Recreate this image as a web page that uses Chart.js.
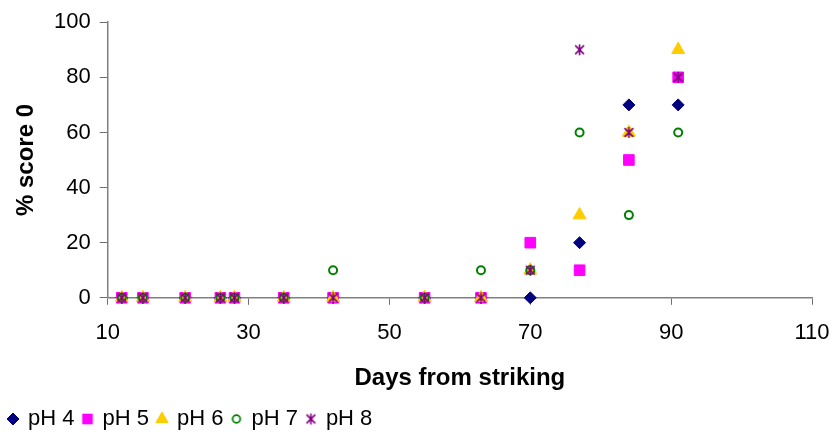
<!DOCTYPE html>
<html>
<head>
<meta charset="utf-8">
<script src="https://cdn.jsdelivr.net/npm/chart.js@4.4.1/dist/chart.umd.min.js"></script>
<style>
  html, body { margin: 0; padding: 0; background: #fff; }
  #wrap { width: 835px; height: 434px; position: relative; }
</style>
</head>
<body>
<div id="wrap"><canvas id="myChart"></canvas></div>
<script>
// days after striking, one reading per sampling day
const days = [12, 15, 21, 26, 28, 35, 42, 55, 63, 70, 77, 84, 91];

const ph4 = [0, 0, 0, 0, 0, 0, 0, 0, 0, 0, 20, 70, 70];
const ph5 = [0, 0, 0, 0, 0, 0, 0, 0, 0, 20, 10, 50, 80];
const ph6 = [0, 0, 0, 0, 0, 0, 0, 0, 0, 10, 30, 60, 90];
const ph7 = [0, 0, 0, 0, 0, 0, 10, 0, 10, 10, 60, 30, 60];
const ph8 = [0, 0, 0, 0, 0, 0, 0, 0, 0, 10, 90, 60, 80];

const xTicks = [10, 30, 50, 70, 90, 110];
const yTicks = [0, 20, 40, 60, 80, 100];

// excel style asterisk: an X with a vertical bar
function asterisk(color, size) {
  const c = document.createElement('canvas');
  c.width = size; c.height = size;
  const g = c.getContext('2d');
  const m = size / 2, r = size / 2 - 1;
  g.strokeStyle = color;
  g.lineWidth = 1.6;
  g.beginPath();
  g.moveTo(m - r * 0.8, m - r * 0.8); g.lineTo(m + r * 0.8, m + r * 0.8);
  g.moveTo(m + r * 0.8, m - r * 0.8); g.lineTo(m - r * 0.8, m + r * 0.8);
  g.moveTo(m, m - r); g.lineTo(m, m + r);
  g.stroke();
  return c;
}

// small legend icon, drawn with chart.js's own point helper
function icon(style, radius, fill, stroke, bw) {
  const c = document.createElement('canvas');
  c.width = 18; c.height = 18;
  const g = c.getContext('2d');
  g.fillStyle = fill;
  g.strokeStyle = stroke;
  g.lineWidth = bw;
  Chart.helpers.drawPoint(g, { pointStyle: style, radius: radius, borderWidth: bw, rotation: 0 }, 9, 9);
  return c;
}

function pts(vals) {
  return days.map((d, i) => ({ x: d, y: vals[i] }));
}

const font = "'Liberation Sans', Arial, sans-serif";
const star = asterisk('#800080', 13);

const legendIcons = [
  icon('rectRot', 6, '#000080', '#000080', 1),
  icon('rect', 7.5, '#FF00FF', '#FF00FF', 0),
  icon('triangle', 7, '#FFCC00', '#FFCC00', 1),
  icon('circle', 3.8, 'rgba(0,0,0,0)', '#008000', 1.8),
  star
];

var ctx = document.getElementById('myChart').getContext('2d');

var chart = new Chart(ctx, {
  type: 'scatter',
  data: {
    datasets: [{
      label: 'pH 4',
      data: pts(ph4),
      pointStyle: 'rectRot',
      pointRadius: 6,
      backgroundColor: '#000080',
      borderColor: '#000080',
      borderWidth: 1,
      order: 5
    },
    {
      label: 'pH 5',
      data: pts(ph5),
      pointStyle: 'rect',
      pointRadius: 7.5,
      backgroundColor: '#FF00FF',
      borderColor: '#FF00FF',
      borderWidth: 1,
      order: 4
    },
    {
      label: 'pH 6',
      data: pts(ph6),
      pointStyle: 'triangle',
      pointRadius: 7.5,
      backgroundColor: '#FFCC00',
      borderColor: '#FFCC00',
      borderWidth: 1,
      order: 3
    },
    {
      label: 'pH 7',
      data: pts(ph7),
      pointStyle: 'circle',
      pointRadius: 4,
      backgroundColor: 'rgba(0,0,0,0)',
      borderColor: '#008000',
      borderWidth: 2,
      order: 2
    },
    {
      label: 'pH 8',
      data: pts(ph8),
      pointStyle: star,
      backgroundColor: '#800080',
      borderColor: '#800080',
      order: 1
    }].map(ds => Object.assign(ds, { clip: false }))
  },
  options: {
    responsive: true,
    maintainAspectRatio: false,
    animation: false,
    layout: { padding: { left: 0, right: 2, top: 20, bottom: -6 } },
    plugins: {
      tooltip: { enabled: false },
      legend: {
        position: 'bottom',
        align: 'start',
        labels: {
          usePointStyle: true,
          boxWidth: 8,
          boxHeight: 8,
          padding: 9,
          color: '#000',
          font: { family: font, size: 22 },
          sort: (a, b) => a.datasetIndex - b.datasetIndex,
          generateLabels: function(chart) {
            const items = Chart.defaults.plugins.legend.labels.generateLabels(chart);
            items.forEach(it => { it.pointStyle = legendIcons[it.datasetIndex]; });
            return items;
          }
        }
      }
    },
    scales: {
      x: {
        type: 'linear',
        min: 10,
        max: 110,
        afterBuildTicks: axis => { axis.ticks = xTicks.map(v => ({ value: v })); },
        // only leave room for half of the last label on the right
        afterFit: axis => { axis.paddingRight = 23; },
        border: { color: '#808080', width: 1.5 },
        grid: { drawOnChartArea: false, drawTicks: true, tickLength: 7, color: '#707070' },
        ticks: { color: '#000', padding: 15, font: { family: font, size: 22 } },
        title: {
          display: true,
          text: 'Days from striking',
          color: '#000',
          padding: { top: 3, bottom: 6 },
          font: { family: font, size: 24, weight: 'bold' }
        }
      },
      y: {
        min: 0,
        max: 100,
        afterBuildTicks: axis => { axis.ticks = yTicks.map(v => ({ value: v })); },
        border: { color: '#808080', width: 1.5 },
        grid: { drawOnChartArea: false, drawTicks: true, tickLength: 8, color: '#707070' },
        ticks: { color: '#000', padding: 9, font: { family: font, size: 22 } },
        title: {
          display: true,
          text: '% score 0',
          color: '#000',
          padding: { top: 11.6, bottom: 4.6 },
          font: { family: font, size: 24, weight: 'bold' }
        }
      }
    }
  }
});
</script>
</body>
</html>
